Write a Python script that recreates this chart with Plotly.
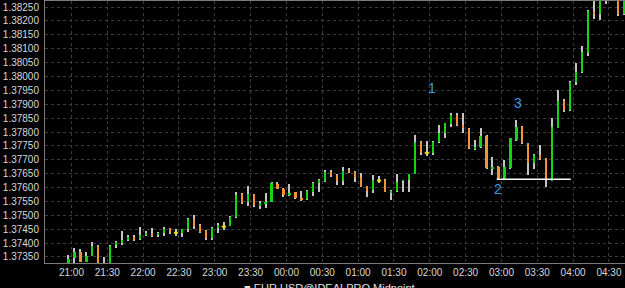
import pandas as pd
import plotly.graph_objects as go

# 5-minute candles, EUR.USD midpoint (start time of first bar)
start_time = "2013-12-10 20:55"
opens = [1.37321, 1.37345, 1.37369, 1.37333, 1.37355, 1.37390, 1.37325, 1.37322, 1.37393, 1.37399,
         1.37411, 1.37423, 1.37414, 1.37429, 1.37437, 1.37430, 1.37435, 1.37453, 1.37437, 1.37435,
         1.37451, 1.37486, 1.37465, 1.37445, 1.37417, 1.37453, 1.37459, 1.37462, 1.37493, 1.37577,
         1.37549, 1.37577, 1.37535, 1.37543, 1.37549, 1.37613, 1.37595, 1.37573, 1.37583, 1.37563,
         1.37559, 1.37585, 1.37615, 1.37624, 1.37657, 1.37645, 1.37624, 1.37663, 1.37657, 1.37639,
         1.37606, 1.37591, 1.37625, 1.37627, 1.37583, 1.37588, 1.37625, 1.37627, 1.37649, 1.37765,
         1.37725, 1.37725, 1.37765, 1.37795, 1.37829, 1.37861, 1.37825, 1.37811, 1.37739, 1.37747,
         1.37787, 1.37667, 1.37675, 1.37633, 1.37669, 1.37771, 1.37819, 1.37759, 1.37687, 1.37717,
         1.37705, 1.37624, 1.37815, 1.37913, 1.37879, 1.37981, 1.38017, 1.38083, 1.38233, 1.38225,
         1.38280, 1.38310, 1.38300, 1.38225]
highs = [1.37357, 1.37383, 1.37379, 1.37369, 1.37403, 1.37392, 1.37351, 1.37393, 1.37408, 1.37444,
         1.37429, 1.37429, 1.37457, 1.37444, 1.37453, 1.37441, 1.37459, 1.37455, 1.37450, 1.37452,
         1.37489, 1.37501, 1.37469, 1.37446, 1.37459, 1.37471, 1.37477, 1.37497, 1.37585, 1.37579,
         1.37606, 1.37578, 1.37552, 1.37579, 1.37619, 1.37619, 1.37597, 1.37613, 1.37585, 1.37588,
         1.37591, 1.37621, 1.37629, 1.37663, 1.37663, 1.37647, 1.37673, 1.37672, 1.37659, 1.37653,
         1.37607, 1.37645, 1.37642, 1.37629, 1.37591, 1.37649, 1.37628, 1.37650, 1.37789, 1.37767,
         1.37769, 1.37767, 1.37825, 1.37833, 1.37867, 1.37867, 1.37867, 1.37813, 1.37771, 1.37813,
         1.37789, 1.37709, 1.37677, 1.37699, 1.37780, 1.37843, 1.37821, 1.37761, 1.37719, 1.37753,
         1.37707, 1.37849, 1.37951, 1.37919, 1.37983, 1.38050, 1.38110, 1.38240, 1.38290, 1.38300,
         1.38320, 1.38340, 1.38310, 1.38300]
lows = [1.37315, 1.37327, 1.37330, 1.37331, 1.37353, 1.37318, 1.37315, 1.37318, 1.37381, 1.37393,
        1.37408, 1.37408, 1.37412, 1.37426, 1.37423, 1.37423, 1.37426, 1.37433, 1.37426, 1.37421,
        1.37441, 1.37450, 1.37437, 1.37411, 1.37411, 1.37437, 1.37447, 1.37460, 1.37490, 1.37541,
        1.37534, 1.37529, 1.37523, 1.37525, 1.37547, 1.37593, 1.37567, 1.37571, 1.37559, 1.37552,
        1.37555, 1.37571, 1.37585, 1.37619, 1.37639, 1.37609, 1.37609, 1.37654, 1.37621, 1.37601,
        1.37567, 1.37581, 1.37617, 1.37583, 1.37555, 1.37584, 1.37585, 1.37585, 1.37647, 1.37717,
        1.37714, 1.37717, 1.37761, 1.37777, 1.37819, 1.37823, 1.37795, 1.37739, 1.37736, 1.37741,
        1.37667, 1.37645, 1.37630, 1.37631, 1.37667, 1.37769, 1.37757, 1.37645, 1.37666, 1.37700,
        1.37601, 1.37622, 1.37813, 1.37873, 1.37877, 1.37969, 1.38013, 1.38074, 1.38206, 1.38203,
        1.38261, 1.38290, 1.38218, 1.38222]
closes = [1.37342, 1.37369, 1.37333, 1.37355, 1.37391, 1.37321, 1.37326, 1.37391, 1.37403, 1.37411,
          1.37423, 1.37411, 1.37429, 1.37437, 1.37427, 1.37435, 1.37451, 1.37435, 1.37437, 1.37451,
          1.37486, 1.37462, 1.37441, 1.37417, 1.37453, 1.37465, 1.37459, 1.37495, 1.37573, 1.37546,
          1.37577, 1.37537, 1.37543, 1.37549, 1.37615, 1.37595, 1.37573, 1.37579, 1.37561, 1.37555,
          1.37589, 1.37615, 1.37627, 1.37657, 1.37645, 1.37624, 1.37660, 1.37655, 1.37634, 1.37603,
          1.37589, 1.37627, 1.37625, 1.37585, 1.37589, 1.37621, 1.37627, 1.37649, 1.37765, 1.37723,
          1.37725, 1.37765, 1.37795, 1.37831, 1.37861, 1.37825, 1.37813, 1.37741, 1.37743, 1.37787,
          1.37669, 1.37675, 1.37633, 1.37675, 1.37777, 1.37819, 1.37759, 1.37687, 1.37717, 1.37702,
          1.37627, 1.37819, 1.37913, 1.37879, 1.37981, 1.38017, 1.38089, 1.38237, 1.38225, 1.38290,
          1.38300, 1.38330, 1.38225, 1.38290]

y_ticks = [1.37350, 1.37400, 1.37450, 1.37500, 1.37550, 1.37600, 1.37650, 1.37700, 1.37750,
           1.37800, 1.37850, 1.37900, 1.37950, 1.38000, 1.38050, 1.38100, 1.38150, 1.38200, 1.38250]

wave_labels = ["1", "2", "3"]
wave_times = ["2013-12-11 02:02", "2013-12-11 02:57", "2013-12-11 03:14"]
wave_prices = [1.37958, 1.37595, 1.37904]

support_price = 1.37630
support_start = "2013-12-11 02:56"
support_end = "2013-12-11 03:58"

legend_text = "■ EUR.USD@IDEALPRO Midpoint"

# ---------------------------------------------------------------
n = len(opens)
starts = pd.date_range(start_time, periods=n, freq="5min")
centers = starts + pd.Timedelta(seconds=150)

GREEN = "#12d612"
ORANGE = "#f2933a"
WICK = "#c4c4c4"

body_base = [min(o, c) for o, c in zip(opens, closes)]
body_h = [abs(c - o) for o, c in zip(opens, closes)]
body_col = [GREEN if c >= o else ORANGE for o, c in zip(opens, closes)]
wick_h = [h - l for h, l in zip(highs, lows)]

doji_x = [t for t, o, c in zip(centers, opens, closes) if o == c]
doji_y = [o for o, c in zip(opens, closes) if o == c]

fig = go.Figure()
fig.add_trace(go.Bar(x=centers, y=wick_h, base=lows, width=55000,
                     marker=dict(color=WICK, line=dict(width=0)), hoverinfo="skip"))
fig.add_trace(go.Bar(x=centers, y=body_h, base=body_base, width=110000,
                     marker=dict(color=body_col, line=dict(width=0)), hoverinfo="skip"))
fig.add_trace(go.Scatter(x=doji_x, y=doji_y, mode="markers",
                         marker=dict(symbol="line-ew", size=3, line=dict(color="#e8e000", width=2)),
                         hoverinfo="skip"))

for lab, t, p in zip(wave_labels, wave_times, wave_prices):
    fig.add_annotation(x=t, y=p, text=lab, showarrow=False,
                       font=dict(color="#3a9cf0", size=14, family="Liberation Sans"))

fig.add_shape(type="line", xref="x", yref="y", x0=support_start, x1=support_end,
              y0=support_price, y1=support_price, line=dict(color="white", width=1.5))

fig.add_annotation(xref="paper", yref="paper", x=0.49, y=-0.066, xanchor="center", yanchor="top",
                   text=legend_text, showarrow=False,
                   font=dict(color="#e0e0e0", size=11, family="Liberation Sans"))

grid = dict(gridcolor="#3c3c3c", griddash="3px,3px", gridwidth=1)

fig.update_layout(
    width=625, height=288,
    margin=dict(l=45, r=0, t=1, b=25),
    paper_bgcolor="black", plot_bgcolor="black",
    showlegend=False, bargap=0, barmode="overlay",
    font=dict(family="Liberation Sans", size=10, color="#d8d8d8"),
    xaxis=dict(type="date", range=["2013-12-10 20:37:50", "2013-12-11 04:43:25"],
               tickformat="%H:%M", dtick=30 * 60 * 1000, tick0="2013-12-10 21:00",
               showline=True, linecolor="#7a7a7a", linewidth=1, mirror=True,
               ticks="", zeroline=False, tickfont=dict(size=10, color="#d8d8d8"), **grid),
    yaxis=dict(range=[1.37328, 1.38272], tickvals=y_ticks, tickformat=".5f",
               showline=True, linecolor="#7a7a7a", linewidth=1,
               ticks="", zeroline=False, ticklabelstandoff=3,
               tickfont=dict(size=10, color="#d8d8d8"), **grid),
)

fig.write_html("out.html")
